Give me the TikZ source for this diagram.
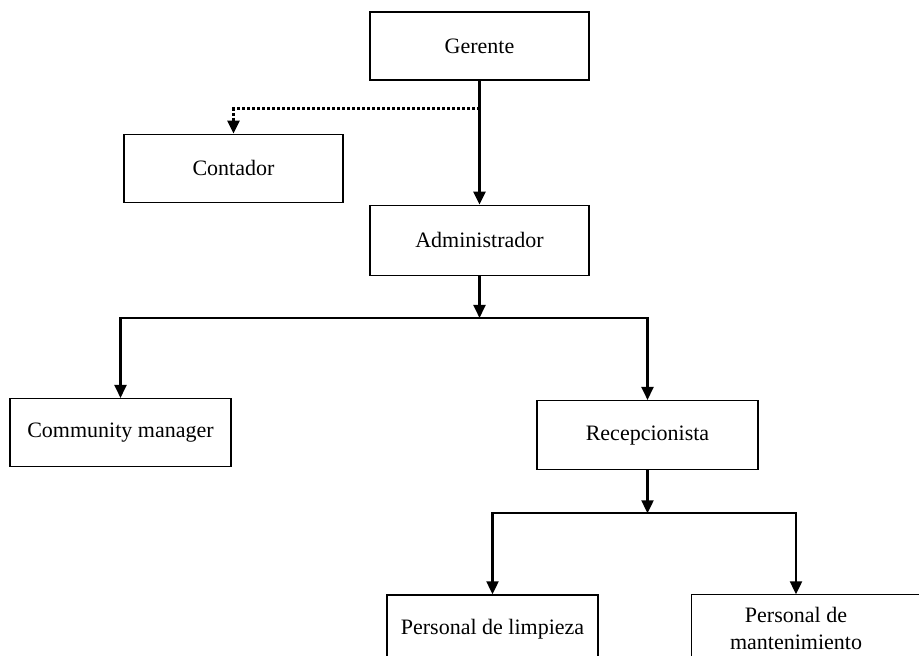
\documentclass[tikz,border=0pt]{standalone}
\usepackage{fontspec}
\setmainfont{Liberation Serif}
\usetikzlibrary{arrows.meta, positioning}
\tikzset{
  post/.style={rectangle, minimum width=219pt, minimum height=68pt, align=center, draw=black, line width=1.3pt, font=\fontsize{22pt}{27pt}\selectfont},
  arrow/.style={line width=2.4pt, -{Triangle[width=12pt,length=13pt]}},
  dasharrow/.style={line width=2.4pt, dash pattern=on 3pt off 2pt, -{Triangle[width=12pt,length=13pt]}}
}

\begin{document}
\begin{tikzpicture}[node distance=124pt]
  \clip (0,0) rectangle (919pt,-656pt);

  \node (gerente) [post] at (479.5pt,-46pt) {Gerente};
  \node (contador) [post, below=53pt of gerente, xshift=-246pt] {Contador};
  \node (admin) [post, minimum height=70pt, below=of gerente] {Administrador};
  \node (community) [post, minimum width=221pt, below=122pt of admin, xshift=-359pt] {Community manager};
  \node (recep) [post, minimum width=221pt, minimum height=69pt, below=of admin, xshift=168pt] {Recepcionista};
  \node (limpieza) [post, minimum width=211pt, below=of recep, xshift=-155pt] {Personal de limpieza};
  \node (mant) [post, draw=none, minimum width=208pt, below=of recep, xshift=148.5pt] {Personal de\\mantenimiento};
  \draw [line width=1.3pt] (mant.north west) rectangle ([xshift=40pt]mant.south east);

  \coordinate (split) at ([yshift=-28pt]gerente.south);
  \coordinate (hub1) at ([yshift=-42pt]admin.south);
  \coordinate (hub2) at ([yshift=-43pt]recep.south);

  \draw [arrow] (gerente) -- (admin);
  \draw [dasharrow] (split) -| (contador);
  \draw [arrow] (admin) -- (hub1);
  \draw [arrow] (hub1) -| (community);
  \draw [arrow] (hub1) -| (recep);
  \draw [arrow] (recep) -- (hub2);
  \draw [arrow] (hub2) -| (limpieza);
  \draw [arrow] (hub2) -| (mant);

\end{tikzpicture}
\end{document}
